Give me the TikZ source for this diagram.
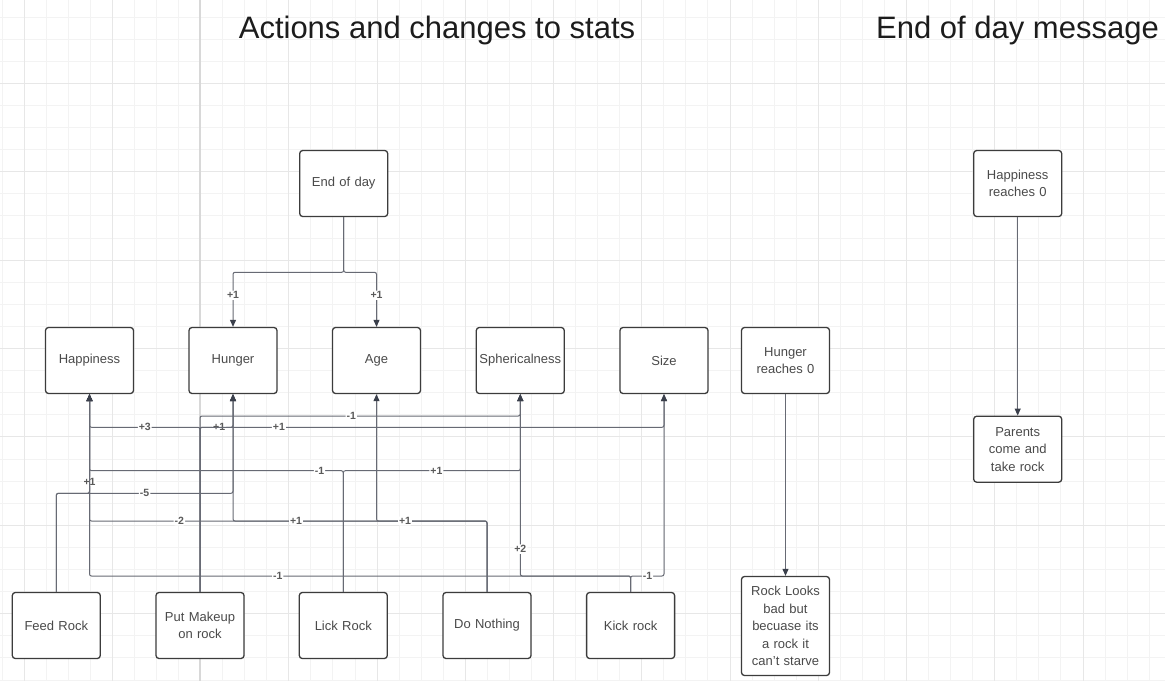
\documentclass[tikz,border=0pt]{standalone}
\usepackage{fontspec}
\setmainfont{Liberation Sans}
\usepackage{xcolor}
\usetikzlibrary{arrows.meta}

\definecolor{gridmin}{HTML}{F3F3F3}
\definecolor{gridmaj}{HTML}{E7E7E7}
\definecolor{pageline}{HTML}{D8D8D8}
\definecolor{boxline}{HTML}{3C3C3C}
\definecolor{boxtext}{HTML}{4A4A4A}
\definecolor{linkc}{HTML}{676A74}
\definecolor{tipc}{HTML}{3A3F4B}
\definecolor{lblc}{HTML}{5A5A5A}
\definecolor{titlec}{HTML}{1C1C1C}

\begin{document}
\begin{tikzpicture}[x=1pt, y=-1pt,
    box/.style={draw=boxline, line width=1.3pt, rounded corners=3pt, fill=white,
      minimum width=88pt, minimum height=66pt, text width=86pt, inner sep=0pt,
      align=center, text=boxtext, font=\fontsize{13}{17.6}\selectfont},
    link/.style={draw=linkc, line width=1pt, rounded corners=2pt,
      -{Triangle[length=7pt, width=6pt, color=tipc]}},
    lbl/.style={fill=white, inner sep=1pt, text=lblc, font=\fontsize{10.5}{10.5}\bfseries\selectfont},
    title/.style={anchor=base, text=titlec, font=\fontsize{31}{31}\selectfont}]

    \useasboundingbox (0,0) rectangle (1165,681);
    \fill[white] (0,0) rectangle (1165,681);
    \foreach \i in {0,...,52}
        \draw[gridmin, line width=.9pt] ({2+22.06*\i},0) -- ({2+22.06*\i},681);
    \foreach \j in {0,...,30}
        \draw[gridmin, line width=.9pt] (0,{17+22.1*\j}) -- (1165,{17+22.1*\j});
    \foreach \i in {1,5,...,49}
        \draw[gridmaj, line width=.9pt] ({2+22.06*\i},0) -- ({2+22.06*\i},681);
    \foreach \j in {3,7,...,27}
        \draw[gridmaj, line width=.9pt] (0,{17+22.1*\j}) -- (1165,{17+22.1*\j});
    \draw[pageline, line width=1.1pt] (200,0) -- (200,681);

    \node[title] (t1) at (437,38.5) {Actions and changes to stats};
    \node[title] (t2) at (1017.5,38.5) {End of day message};

    \node[box] (eod) at (343.7,183.5) {End of day};

    \node[box] (hap) at (89.5,360.5) {Happiness};
    \node[box] (hun) at (233,360.5) {Hunger};
    \node[box] (age) at (376.5,360.5) {Age};
    \node[box] (sph) at (520.3,360.5) {Sphericalness};
    \node[box] (siz) at (664,360.5) {Size};
    \node[box] (hz) at (785.5,360.5) {Hunger\\reaches 0};

    \node[box] (feed) at (56.3,625.5) {Feed Rock};
    \node[box] (mkup) at (200,625.5) {Put Makeup\\on rock};
    \node[box] (lick) at (343.3,625.5) {Lick Rock};
    \node[box] (noth) at (487,625.5) {Do Nothing};
    \node[box] (kick) at (630.6,625.5) {Kick rock};
    \node[box, minimum height=99pt] (look) at (785.5,626) {Rock Looks\\bad but\\becuase its\\a rock it\\can't starve};

    \node[box] (pz) at (1017.7,183.5) {Happiness\\reaches 0};
    \node[box] (par) at (1017.7,449.2) {Parents\\come and\\take rock};

    \coordinate (lvT) at (0,272.3);
    \coordinate (lvA) at (0,416);
    \coordinate (lvB) at (0,427.3);
    \coordinate (lvC) at (0,470.7);
    \coordinate (lvD) at (0,493.3);
    \coordinate (lvE) at (0,521);
    \coordinate (lvF) at (0,576);

    \draw[link] (eod.south) |- (lvT -| hun.north) -- node[lbl, pos=.42] {+1} (hun.north);
    \draw[link] (eod.south) |- (lvT -| age.north) -- node[lbl, pos=.42] {+1} (age.north);

    \draw[link] (feed.north) |- (lvD -| hap.south) -- node[lbl, pos=.12] {+1} (hap.south);
    \draw[link] (feed.north) |- node[lbl, pos=.75] {-5} (lvD -| hun.south) -- (hun.south);

    \draw[link] (mkup.north) |- node[lbl, pos=.75] {+3} (lvB -| hap.south) -- (hap.south);
    \draw[link] (mkup.north) |- node[lbl, pos=.79] {+1} (lvB -| hun.south) -- (hun.south);
    \draw[link] (mkup.north) |- node[lbl, pos=.736] {-1} (lvA -| sph.south) -- (sph.south);
    \draw[link] (mkup.north) |- node[lbl, pos=.585] {+1} (lvB -| siz.south) -- (siz.south);

    \draw[link] (lick.north) |- node[lbl, pos=.547] {-1} (lvC -| hap.south) -- (hap.south);
    \draw[link] (lick.north) |- node[lbl, pos=.763] {+1} (lvC -| sph.south) -- (sph.south);

    \draw[link] (noth.north) |- node[lbl, pos=.887] {-2} (lvE -| hap.south) -- (hap.south);
    \draw[link] (noth.north) |- node[lbl, pos=.876] {+1} (lvE -| hun.south) -- (hun.south);
    \draw[link] (noth.north) |- node[lbl, pos=.871] {+1} (lvE -| age.south) -- (age.south);

    \draw[link] (kick.north) |- node[lbl, pos=.826] {-1} (lvF -| hap.south) -- (hap.south);
    \draw[link] (kick.north) |- (lvF -| sph.south) -- node[lbl, pos=.148] {+2} (sph.south);
    \draw[link] (kick.north) |- node[lbl, pos=.753] {-1} (lvF -| siz.south) -- (siz.south);

    \draw[link] (hz.south) -- (look.north);
    \draw[link] (pz.south) -- (par.north);
\end{tikzpicture}
\end{document}
